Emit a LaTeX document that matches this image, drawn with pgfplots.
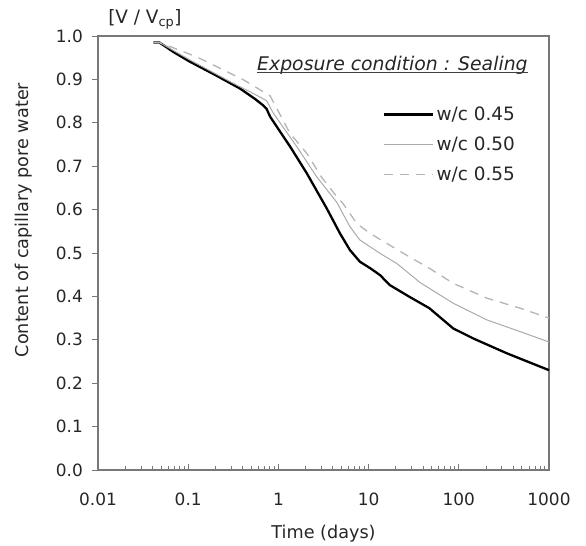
\documentclass[border=0pt]{standalone}
\usepackage{fontspec}
\setmainfont{DejaVu Sans}
\usepackage{pgfplots}
\pgfplotsset{compat=1.18}
\definecolor{axgray}{RGB}{120,120,120}
\definecolor{lgray}{RGB}{170,170,170}
\definecolor{dgray}{RGB}{180,180,180}
\begin{document}
\begin{tikzpicture}
\begin{axis}[
  xmode=log, log basis x=10,
  width=451bp, height=434bp, scale only axis,
  xmin=0.01, xmax=1000, ymin=0, ymax=1,
  xtick={0.01,0.1,1,10,100,1000},
  xticklabels={0.01,0.1,1,10,100,1000},
  minor xtick={0.02,0.03,0.04,0.05,0.06,0.07,0.08,0.09,0.2,0.3,0.4,0.5,0.6,0.7,0.8,0.9,2,3,4,5,6,7,8,9,20,30,40,50,60,70,80,90,200,300,400,500,600,700,800,900},
  ytick={0,0.1,0.2,0.3,0.4,0.5,0.6,0.7,0.8,0.9,1.0},
  yticklabels={0.0,0.1,0.2,0.3,0.4,0.5,0.6,0.7,0.8,0.9,1.0},
  tick label style={font=\fontsize{17}{20}\selectfont, text=black!85, inner sep=0pt},
  xticklabel style={anchor=north, yshift=-22.5bp},
  yticklabel style={anchor=east, xshift=-15bp},
  tick align=inside,
  xtick pos=bottom, ytick pos=left,
  major tick length=6bp, minor tick length=4bp,
  every major y tick/.append style={xshift=-6bp},
  tick style={axgray, line width=0.8bp},
  axis line style={axgray, line width=1.4bp},
  xlabel={Time (days)},
  ylabel={Content of capillary pore water},
  label style={font=\fontsize{17.7}{20}\selectfont, text=black!85, inner sep=0pt},
  xlabel style={at={(rel axis cs:0.5,-0.1567)}, anchor=base},
  ylabel style={at={(rel axis cs:-0.153,0.576)}, anchor=base, rotate=0},
  legend style={at={(rel axis cs:0.632,0.842)}, anchor=north west, draw=none, fill=none,
    font=\fontsize{18.5}{21}\selectfont, text=black!85, row sep=11bp, inner sep=0pt},
  legend cell align=left,
  legend image code/.code={\draw[#1] (0bp,0bp) -- (49bp,0bp);},
  clip=false,
]
\addplot[black, line width=2.3bp] coordinates {
(0.041,0.985) (0.048,0.985) (0.07,0.962) (0.104,0.941) (0.2,0.910) (0.375,0.879)
(0.55,0.855) (0.68,0.840) (0.74,0.832) (0.81,0.814) (1.35,0.745) (2.06,0.684)
(3.43,0.603) (4.82,0.545) (6.2,0.507) (8.0,0.480) (10.4,0.465) (13.4,0.449)
(17.2,0.426) (28.4,0.399) (47,0.373) (87,0.326) (145,0.303) (340,0.269) (1000,0.230)
};
\addlegendentry{w/c 0.45}
\addplot[lgray, line width=1bp] coordinates {
(0.041,0.985) (0.048,0.985) (0.104,0.945) (0.316,0.891) (0.5,0.870) (0.74,0.851)
(0.88,0.822) (1.6,0.745) (2.65,0.676) (4.43,0.617) (6.2,0.561) (8.0,0.530)
(13.4,0.499) (20.5,0.476) (37.2,0.432) (87,0.384) (204,0.346) (476,0.319) (1000,0.295)
};
\addlegendentry{w/c 0.50}
\addplot[dgray, line width=1.3bp, dash pattern=on 9bp off 7bp] coordinates {
(0.041,0.985) (0.048,0.985) (0.124,0.952) (0.41,0.899) (0.81,0.862) (0.95,0.835)
(1.34,0.776) (2.06,0.730) (3.0,0.675) (4.43,0.630) (5.2,0.614) (7.4,0.568)
(10.4,0.545) (17.2,0.518) (28.4,0.491) (47,0.465) (87,0.430) (204,0.396)
(476,0.373) (1000,0.350)
};
\addlegendentry{w/c 0.55}
\node[anchor=base east, inner sep=0pt, font=\fontsize{18.9}{21}\selectfont\itshape, text=black!85] (t) at (rel axis cs:0.953,0.92) {Exposure condition : Sealing};
\draw[black!75, line width=0.9bp] ([yshift=-2bp]t.base west) -- ([yshift=-2bp]t.base east);
\node[anchor=base, inner sep=0pt, font=\fontsize{18.5}{20}\selectfont, text=black!85] at ([yshift=12bp]rel axis cs:0.104,1) {[V / V\textsubscript{cp}]};
\end{axis}
\pgfresetboundingbox
\path[use as bounding box] (-98bp,-76bp) rectangle (488bp,470bp);
\end{tikzpicture}
\end{document}
